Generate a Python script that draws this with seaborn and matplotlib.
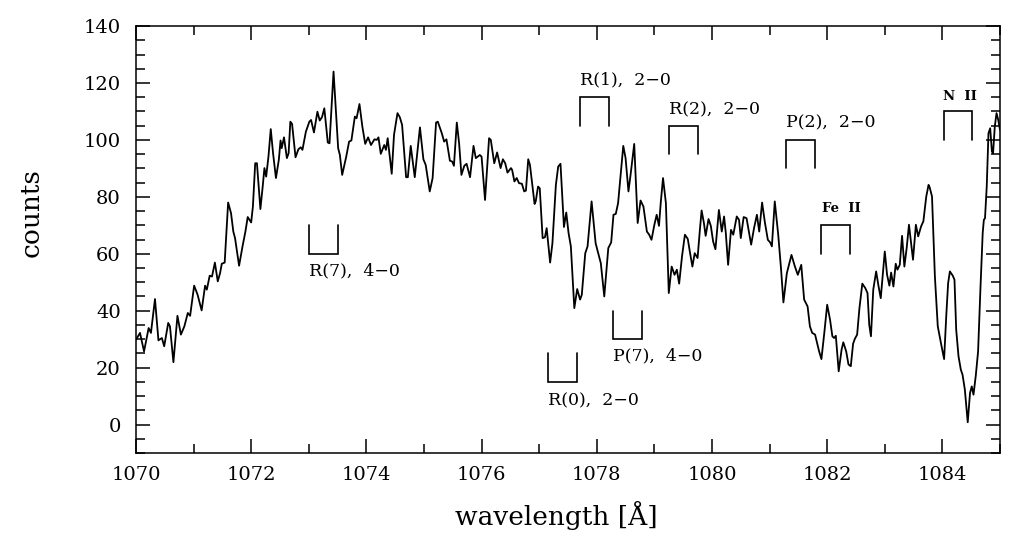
import matplotlib
matplotlib.use("Agg")
import matplotlib.pyplot as plt
from matplotlib.ticker import MultipleLocator
import seaborn as sns
import pandas as pd

# ---------------- data ----------------
wavelength = [
    1070.00, 1070.07, 1070.14, 1070.22, 1070.26, 1070.33, 1070.39, 1070.45, 1070.49, 1070.56,
    1070.59, 1070.65, 1070.72, 1070.78, 1070.84, 1070.90, 1070.94, 1071.01, 1071.07, 1071.14,
    1071.20, 1071.23, 1071.28, 1071.32, 1071.37, 1071.42, 1071.46, 1071.49, 1071.54, 1071.60,
    1071.65, 1071.69, 1071.72, 1071.79, 1071.85, 1071.90, 1071.94, 1072.00, 1072.03, 1072.07,
    1072.10, 1072.16, 1072.20, 1072.23, 1072.26, 1072.30, 1072.34, 1072.38, 1072.43, 1072.48,
    1072.51, 1072.53, 1072.57, 1072.62, 1072.65, 1072.68, 1072.71, 1072.77, 1072.82, 1072.86,
    1072.89, 1072.95, 1073.01, 1073.04, 1073.09, 1073.15, 1073.19, 1073.23, 1073.27, 1073.33,
    1073.36, 1073.43, 1073.47, 1073.51, 1073.54, 1073.58, 1073.65, 1073.70, 1073.74, 1073.80,
    1073.83, 1073.88, 1073.93, 1073.98, 1074.03, 1074.08, 1074.14, 1074.18, 1074.21, 1074.25,
    1074.31, 1074.34, 1074.37, 1074.44, 1074.48, 1074.54, 1074.58, 1074.62, 1074.69, 1074.72,
    1074.77, 1074.84, 1074.93, 1074.99, 1075.03, 1075.10, 1075.15, 1075.21, 1075.24, 1075.31,
    1075.35, 1075.39, 1075.45, 1075.49, 1075.52, 1075.57, 1075.61, 1075.65, 1075.70, 1075.74,
    1075.80, 1075.86, 1075.90, 1075.97, 1076.00, 1076.06, 1076.13, 1076.16, 1076.22, 1076.27,
    1076.33, 1076.37, 1076.41, 1076.45, 1076.51, 1076.53, 1076.57, 1076.61, 1076.65, 1076.70,
    1076.74, 1076.77, 1076.81, 1076.84, 1076.92, 1076.94, 1076.98, 1077.01, 1077.06, 1077.10,
    1077.13, 1077.19, 1077.23, 1077.29, 1077.33, 1077.37, 1077.43, 1077.47, 1077.51, 1077.55,
    1077.61, 1077.66, 1077.71, 1077.74, 1077.80, 1077.84, 1077.91, 1077.98, 1078.07, 1078.13,
    1078.20, 1078.25, 1078.29, 1078.33, 1078.37, 1078.46, 1078.50, 1078.55, 1078.59, 1078.65,
    1078.71, 1078.76, 1078.81, 1078.87, 1078.91, 1078.95, 1079.00, 1079.04, 1079.08, 1079.11,
    1079.15, 1079.20, 1079.25, 1079.30, 1079.35, 1079.39, 1079.43, 1079.48, 1079.53, 1079.58,
    1079.62, 1079.66, 1079.70, 1079.75, 1079.79, 1079.82, 1079.86, 1079.89, 1079.94, 1079.98,
    1080.02, 1080.06, 1080.12, 1080.17, 1080.21, 1080.24, 1080.28, 1080.33, 1080.37, 1080.43,
    1080.47, 1080.50, 1080.55, 1080.60, 1080.68, 1080.73, 1080.78, 1080.82, 1080.87, 1080.92,
    1080.97, 1081.01, 1081.04, 1081.09, 1081.15, 1081.20, 1081.24, 1081.30, 1081.38, 1081.44,
    1081.49, 1081.55, 1081.60, 1081.66, 1081.70, 1081.74, 1081.79, 1081.86, 1081.90, 1081.95,
    1082.00, 1082.05, 1082.09, 1082.12, 1082.15, 1082.20, 1082.25, 1082.28, 1082.33, 1082.37,
    1082.41, 1082.45, 1082.48, 1082.52, 1082.56, 1082.61, 1082.66, 1082.70, 1082.73, 1082.76,
    1082.80, 1082.85, 1082.89, 1082.93, 1082.97, 1083.00, 1083.04, 1083.08, 1083.11, 1083.15,
    1083.19, 1083.22, 1083.26, 1083.30, 1083.34, 1083.38, 1083.42, 1083.45, 1083.49, 1083.54,
    1083.58, 1083.63, 1083.67, 1083.72, 1083.76, 1083.78, 1083.82, 1083.87, 1083.92, 1083.98,
    1084.03, 1084.07, 1084.10, 1084.13, 1084.18, 1084.21, 1084.24, 1084.28, 1084.32, 1084.35,
    1084.39, 1084.44, 1084.48, 1084.51, 1084.54, 1084.58, 1084.62, 1084.66, 1084.70, 1084.72,
    1084.74, 1084.77, 1084.80, 1084.83, 1084.86, 1084.88, 1084.91, 1084.94, 1084.97, 1085.00,
]
counts = [
    29.8, 32.2, 25.7, 33.9, 32.2, 44.1, 29.6, 30.4, 27.5, 35.7,
    34.5, 21.9, 38.2, 31.6, 34.5, 39.2, 38.2, 48.8, 45.6, 40.1,
    48.8, 47.4, 52.3, 52.0, 56.9, 50.3, 53.2, 56.5, 56.9, 78.0,
    74.3, 67.8, 65.5, 55.8, 62.6, 67.8, 72.9, 71.0, 76.6, 91.8,
    91.8, 75.7, 83.6, 90.1, 87.1, 94.1, 103.8, 95.3, 86.6, 93.0,
    99.8, 97.1, 100.9, 93.6, 95.3, 106.4, 105.6, 93.9, 96.7, 97.4,
    96.5, 102.9, 106.4, 107.0, 102.6, 109.9, 106.8, 108.0, 111.1, 99.1,
    98.8, 124.0, 110.5, 97.1, 94.7, 87.7, 94.1, 99.4, 99.8, 108.2,
    107.6, 112.6, 104.7, 98.6, 100.9, 98.2, 100.2, 100.0, 100.9, 95.1,
    98.2, 96.5, 100.6, 88.1, 101.8, 109.4, 108.0, 105.3, 86.9, 86.9,
    97.9, 86.9, 104.4, 93.2, 91.2, 81.9, 86.6, 106.1, 106.4, 102.3,
    99.4, 100.2, 92.7, 92.4, 90.9, 106.1, 98.8, 87.7, 90.9, 91.6,
    86.9, 97.9, 93.6, 94.7, 94.1, 78.9, 100.6, 100.0, 91.8, 95.6,
    90.1, 93.2, 91.8, 88.5, 90.1, 89.5, 85.4, 86.6, 84.8, 84.6,
    81.9, 82.2, 93.2, 91.2, 77.5, 78.4, 83.6, 83.0, 65.5, 65.8,
    69.0, 56.9, 63.7, 84.2, 90.6, 91.6, 69.4, 74.5, 67.3, 62.6,
    40.9, 47.6, 43.9, 45.6, 60.2, 62.6, 78.4, 63.7, 56.7, 45.0,
    62.0, 64.0, 73.7, 74.0, 77.8, 97.9, 93.6, 81.9, 88.3, 98.6,
    70.8, 78.7, 76.6, 67.8, 66.7, 64.9, 70.2, 73.7, 69.8, 77.8,
    86.6, 77.8, 46.2, 55.5, 52.6, 54.4, 49.5, 59.1, 66.7, 65.2,
    60.2, 55.5, 60.2, 58.5, 68.4, 75.2, 70.8, 66.3, 72.2, 69.8,
    64.3, 61.6, 75.4, 67.8, 73.1, 67.3, 56.1, 68.4, 66.7, 73.1,
    71.9, 65.5, 72.9, 72.5, 63.2, 69.0, 73.7, 67.8, 78.0, 70.8,
    64.9, 64.0, 62.6, 78.4, 66.7, 54.4, 42.9, 53.2, 59.6, 55.5,
    52.6, 56.1, 43.9, 41.5, 34.5, 32.2, 31.6, 25.7, 23.0, 32.2,
    42.1, 36.8, 31.0, 30.4, 31.2, 18.7, 26.3, 28.9, 25.7, 21.1,
    20.5, 28.4, 30.1, 31.6, 40.9, 49.5, 48.0, 46.2, 35.1, 31.0,
    47.4, 53.8, 48.8, 44.4, 53.8, 60.8, 52.6, 48.8, 53.4, 48.5,
    56.5, 54.4, 56.1, 66.3, 55.5, 62.0, 70.2, 64.9, 57.9, 70.2,
    66.1, 69.6, 71.4, 80.1, 84.2, 83.3, 80.1, 52.0, 34.5, 28.1,
    23.0, 39.2, 49.7, 53.8, 52.3, 50.9, 33.3, 24.0, 19.3, 17.5,
    12.3, 0.8, 11.1, 13.4, 10.5, 17.2, 25.7, 47.4, 67.3, 71.9,
    72.5, 83.6, 102.3, 104.1, 95.9, 95.3, 104.7, 109.4, 107.0, 103.5,
]

# line identifications: bracket from lo to hi; legs from base to tip
line_labels = ["R(7),  4−0", "R(0),  2−0", "P(7),  4−0", "R(1),  2−0",
               "R(2),  2−0", "P(2),  2−0", "Fe  II", "N  II"]
bracket_lo = [1073.00, 1077.15, 1078.28, 1077.71, 1079.25, 1081.28, 1081.90, 1084.02]
bracket_hi = [1073.50, 1077.65, 1078.78, 1078.21, 1079.75, 1081.78, 1082.40, 1084.52]
bracket_base = [60, 15, 30, 115, 105, 100, 70, 110]   # horizontal bar level
bracket_tip = [70, 25, 40, 105, 95, 90, 60, 100]      # free end of legs
label_x = [1073.00, 1077.15, 1078.28, 1077.71, 1079.25, 1081.28, 1081.91, 1084.01]
label_y = [54.0, 8.4, 24.0, 121.0, 110.5, 106.0, 75.8, 115.4]
label_bold = [False, False, False, False, False, False, True, True]

xticks_major = [1070, 1072, 1074, 1076, 1078, 1080, 1082, 1084]
yticks_major = [0, 20, 40, 60, 80, 100, 120, 140]

# ---------------- plot ----------------
sns.set_style("ticks")
plt.rcParams["font.family"] = ["DejaVu Serif", "DejaVu Sans"]
plt.rcParams["mathtext.fontset"] = "dejavuserif"
plt.rcParams["text.color"] = "black"
plt.rcParams["axes.labelcolor"] = "black"
plt.rcParams["xtick.color"] = "black"
plt.rcParams["ytick.color"] = "black"

fig = plt.figure(figsize=(10.34, 5.47), dpi=100)
ax = fig.add_axes([0.1315, 0.1718, 0.8356, 0.7806])

df = pd.DataFrame({"wavelength": wavelength, "counts": counts})
sns.lineplot(data=df, x="wavelength", y="counts", ax=ax, color="black",
             linewidth=1.3, estimator=None, sort=False)

for lo, hi, b, t, lab, lx, ly, bold in zip(bracket_lo, bracket_hi, bracket_base,
                                           bracket_tip, line_labels, label_x,
                                           label_y, label_bold):
    ax.plot([lo, lo, hi, hi], [t, b, b, t], color="black", linewidth=1.2,
            solid_joinstyle="miter")
    if bold:
        ax.text(lx, ly, lab, fontsize=9.5, fontweight="bold", ha="left",
                va="center", color="black")
    else:
        ax.text(lx, ly, lab, fontsize=12.5, ha="left", va="center", color="black")

ax.set_xlim(1070, 1085)
ax.set_ylim(-10, 140)
ax.set_xticks(xticks_major)
ax.set_yticks(yticks_major)
ax.xaxis.set_minor_locator(MultipleLocator(1))
ax.yaxis.set_minor_locator(MultipleLocator(5))

for side in ["top", "right", "bottom", "left"]:
    ax.spines[side].set_visible(True)
    ax.spines[side].set_linewidth(1.1)
    ax.spines[side].set_color("black")

ax.tick_params(which="both", direction="in", top=True, right=True,
               color="black", labelcolor="black", width=1.1)
ax.tick_params(which="major", length=10, labelsize=14, pad=9)
ax.tick_params(axis="y", which="major", pad=11)
ax.tick_params(which="minor", length=6.5)

ax.set_xlabel("wavelength [Å]", fontsize=19, color="black")
ax.set_ylabel("counts", fontsize=19, color="black")
ax.xaxis.set_label_coords(0.487, -0.112)
ax.yaxis.set_label_coords(-0.1065, 0.562)

fig.savefig("out.png", dpi=100)
